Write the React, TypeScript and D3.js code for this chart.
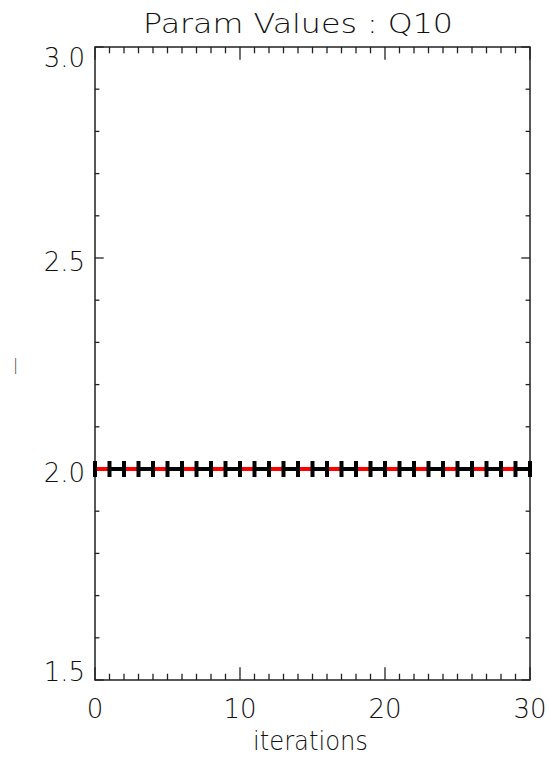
import React from "react";
import * as d3 from "d3";

const iterations = d3.range(0, 31);
const paramValues = [2, 2, 2, 2, 2, 2, 2, 2, 2, 2, 2, 2, 2, 2, 2, 2, 2, 2, 2, 2, 2, 2, 2, 2, 2, 2, 2, 2, 2, 2, 2];
const trueValue = [2, 2];
const xTicks = [0, 10, 20, 30];
const yTicks = [1.5, 2.0, 2.5, 3.0];
const titleText = "Param Values : Q10";
const xTitle = "iterations";
const yTitle = "|";

const W = 550, H = 760;
const L = 95, R = 530, T = 47, B = 680;
const FONT = "'DejaVu Sans ExtraLight', 'DejaVu Sans', sans-serif";

export default function App() {
  const x = d3.scaleLinear().domain([0, 30]).range([L, R]);
  const y = d3.scaleLinear().domain([1.5, 3.0]).range([B, T]);
  const line = d3.line<number>().x((_, i) => x(iterations[i])).y((d) => y(d));
  const xMinor = d3.range(0, 31, 1);
  const yMinor = d3.range(15, 31, 1).map((v) => v / 10);
  const xMaj = 12.7, xMin = 6.3, yMaj = 8.7, yMin = 4.4;
  const axisColor = "#222";
  return (
    <svg width={W} height={H} style={{ position: "absolute", left: 0, top: 0, background: "#fff" }}>
      <rect x={0} y={0} width={W} height={H} fill="#fff" />
      {xMinor.map((v) => {
        const major = v % 10 === 0;
        const len = major ? xMaj : xMin;
        return (
          <g key={"xt" + v} stroke={axisColor} strokeWidth={1.3}>
            <line x1={x(v)} x2={x(v)} y1={B} y2={B - len} />
            <line x1={x(v)} x2={x(v)} y1={T} y2={T + len} />
          </g>
        );
      })}
      {yMinor.map((v) => {
        const major = Math.round(v * 10) % 5 === 0;
        const len = major ? yMaj : yMin;
        return (
          <g key={"yt" + v} stroke={axisColor} strokeWidth={1.3}>
            <line x1={L} x2={L + len} y1={y(v)} y2={y(v)} />
            <line x1={R} x2={R - len} y1={y(v)} y2={y(v)} />
          </g>
        );
      })}
      <rect x={L} y={T} width={R - L} height={B - T} fill="none" stroke={axisColor} strokeWidth={1.5} />
      <path d={line(paramValues) || ""} fill="none" stroke="#000" strokeWidth={4} />
      <line
        x1={x(iterations[0])}
        x2={x(iterations[iterations.length - 1])}
        y1={y(trueValue[0])}
        y2={y(trueValue[1])}
        stroke="#ff0000"
        strokeWidth={4}
        strokeDasharray={`${x(1) - x(0)},${x(1) - x(0)}`}
      />
      {paramValues.map((v, i) => (
        <line key={"m" + i} x1={x(iterations[i])} x2={x(iterations[i])} y1={y(v) - 8} y2={y(v) + 8} stroke="#000" strokeWidth={4} />
      ))}
      {xTicks.map((v) => (
        <text key={"xl" + v} x={x(v)} y={718} textAnchor="middle" fontFamily={FONT} fontWeight={200} fontSize={26} fill="#111">
          {String(v)}
        </text>
      ))}
      {yTicks.map((v) => {
        const base = Math.min(Math.max(y(v) + 13, T + 20), B + 1);
        return (
          <text key={"yl" + v} x={85} y={base} textAnchor="end" fontFamily={FONT} fontWeight={200} fontSize={26} fill="#111">
            {v.toFixed(1)}
          </text>
        );
      })}
      <text x={143} y={33} textLength={310} lengthAdjust="spacingAndGlyphs" fontFamily={FONT} fontWeight={200} fontSize={26} fill="#111">
        {titleText}
      </text>
      <text x={253} y={750} textLength={115} lengthAdjust="spacingAndGlyphs" fontFamily={FONT} fontWeight={200} fontSize={26} fill="#111">
        {xTitle}
      </text>
      <text x={15.5} y={369.5} textAnchor="middle" fontFamily={FONT} fontWeight={200} fontSize={15} fill="#333" style={{ WebkitFontSmoothing: "antialiased" }}>
        {yTitle}
      </text>
    </svg>
  );
}
